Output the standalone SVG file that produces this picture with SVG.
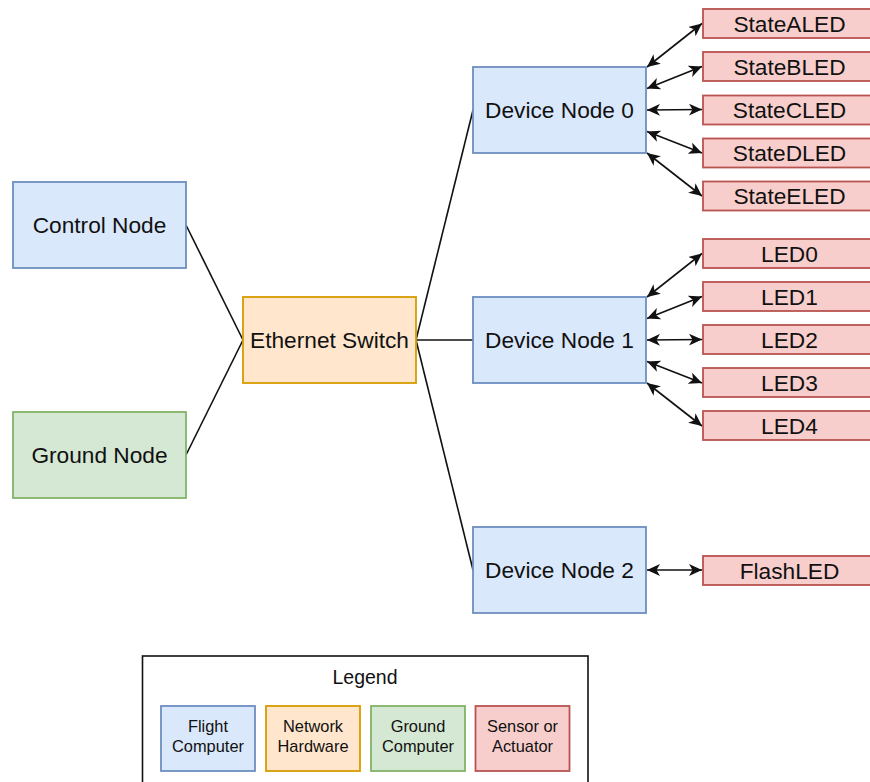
<svg xmlns="http://www.w3.org/2000/svg" width="870" height="782" viewBox="0 0 870 782">
<style>
text{font-family:"Liberation Sans",Arial,sans-serif;fill:#111;text-anchor:middle}
.t{font-size:22.7px}
.s{font-size:16.4px}
.fc{fill:#dae8fc;stroke:#6c8ebf;stroke-width:1.8}
.nh{fill:#ffe6cc;stroke:#d79b00;stroke-width:1.8}
.gc{fill:#d5e8d4;stroke:#82b366;stroke-width:1.8}
.sa{fill:#f8cecc;stroke:#b85450;stroke-width:1.8}
.ln{stroke:#111;stroke-width:1.6;fill:none}
.ar{stroke:#111;stroke-width:1.6;fill:none;marker-start:url(#ah);marker-end:url(#ah)}
</style>
<defs>
<marker id="ah" markerUnits="userSpaceOnUse" markerWidth="14" markerHeight="12" viewBox="0 0 14 12" refX="13" refY="6" orient="auto-start-reverse">
<path d="M0,0 L13,6 L0,12 L3.5,6 Z" fill="#111"/>
</marker>
</defs>
<g id="connectors">
<line class="ln" x1="186" y1="225" x2="243" y2="340"/>
<line class="ln" x1="186" y1="455" x2="243" y2="340"/>
<line class="ln" x1="416" y1="340" x2="473" y2="110"/>
<line class="ln" x1="416" y1="340" x2="473" y2="340"/>
<line class="ln" x1="416" y1="340" x2="473" y2="570"/>
<line class="ar" x1="647" y1="67" x2="702" y2="23.5"/>
<line class="ar" x1="647" y1="88.5" x2="702" y2="66.5"/>
<line class="ar" x1="647" y1="110" x2="702" y2="109.5"/>
<line class="ar" x1="647" y1="131.5" x2="702" y2="153"/>
<line class="ar" x1="647" y1="153" x2="702" y2="196"/>
<line class="ar" x1="647" y1="297" x2="702" y2="253.5"/>
<line class="ar" x1="647" y1="318.5" x2="702" y2="296.5"/>
<line class="ar" x1="647" y1="340" x2="702" y2="339.5"/>
<line class="ar" x1="647" y1="361.5" x2="702" y2="383"/>
<line class="ar" x1="647" y1="383" x2="702" y2="426"/>
<line class="ar" x1="647" y1="570" x2="702" y2="570"/>
</g>
<g id="control-node"><rect class="fc" x="13" y="182" width="173" height="86"/><text class="t" x="99.5" y="233">Control Node</text></g>
<g id="ground-node"><rect class="gc" x="13" y="412" width="173" height="86"/><text class="t" x="99.5" y="463">Ground Node</text></g>
<g id="ethernet-switch"><rect class="nh" x="243" y="297" width="173" height="86"/><text class="t" x="329.5" y="348">Ethernet Switch</text></g>
<g id="device-node-0"><rect class="fc" x="473" y="67" width="173" height="86"/><text class="t" x="559.5" y="118">Device Node 0</text></g>
<g id="device-node-1"><rect class="fc" x="473" y="297" width="173" height="86"/><text class="t" x="559.5" y="348">Device Node 1</text></g>
<g id="device-node-2"><rect class="fc" x="473" y="527" width="173" height="86"/><text class="t" x="559.5" y="578">Device Node 2</text></g>
<g id="stateaLED"><rect class="sa" x="703" y="9" width="173" height="29"/><text class="t" x="789.5" y="31.5">StateALED</text></g>
<g id="statebLED"><rect class="sa" x="703" y="52" width="173" height="29"/><text class="t" x="789.5" y="74.5">StateBLED</text></g>
<g id="statecLED"><rect class="sa" x="703" y="95.5" width="173" height="29"/><text class="t" x="789.5" y="118">StateCLED</text></g>
<g id="statedLED"><rect class="sa" x="703" y="138.5" width="173" height="29"/><text class="t" x="789.5" y="161">StateDLED</text></g>
<g id="stateeLED"><rect class="sa" x="703" y="181.5" width="173" height="29"/><text class="t" x="789.5" y="204">StateELED</text></g>
<g id="led0"><rect class="sa" x="703" y="239" width="173" height="29"/><text class="t" x="789.5" y="261.5">LED0</text></g>
<g id="led1"><rect class="sa" x="703" y="282" width="173" height="29"/><text class="t" x="789.5" y="304.5">LED1</text></g>
<g id="led2"><rect class="sa" x="703" y="325" width="173" height="29"/><text class="t" x="789.5" y="347.5">LED2</text></g>
<g id="led3"><rect class="sa" x="703" y="368" width="173" height="29"/><text class="t" x="789.5" y="390.5">LED3</text></g>
<g id="led4"><rect class="sa" x="703" y="411" width="173" height="29"/><text class="t" x="789.5" y="433.5">LED4</text></g>
<g id="flashLED"><rect class="sa" x="703" y="556" width="173" height="29"/><text class="t" x="789.5" y="578.5">FlashLED</text></g>
<g id="legend">
<rect x="142.5" y="656" width="445.5" height="140" fill="#fff" stroke="#111" stroke-width="1.6"/>
<text x="365" y="684" style="font-size:19.5px">Legend</text>
<rect class="fc" x="161" y="706" width="94" height="65"/>
<text class="s" x="208" y="732">Flight</text><text class="s" x="208" y="752">Computer</text>
<rect class="nh" x="266" y="706" width="94" height="65"/>
<text class="s" x="313" y="732">Network</text><text class="s" x="313" y="752">Hardware</text>
<rect class="gc" x="371" y="706" width="94" height="65"/>
<text class="s" x="418" y="732">Ground</text><text class="s" x="418" y="752">Computer</text>
<rect class="sa" x="475.5" y="706" width="94" height="65"/>
<text class="s" x="522.5" y="732">Sensor or</text><text class="s" x="522.5" y="752">Actuator</text>
</g>
</svg>
